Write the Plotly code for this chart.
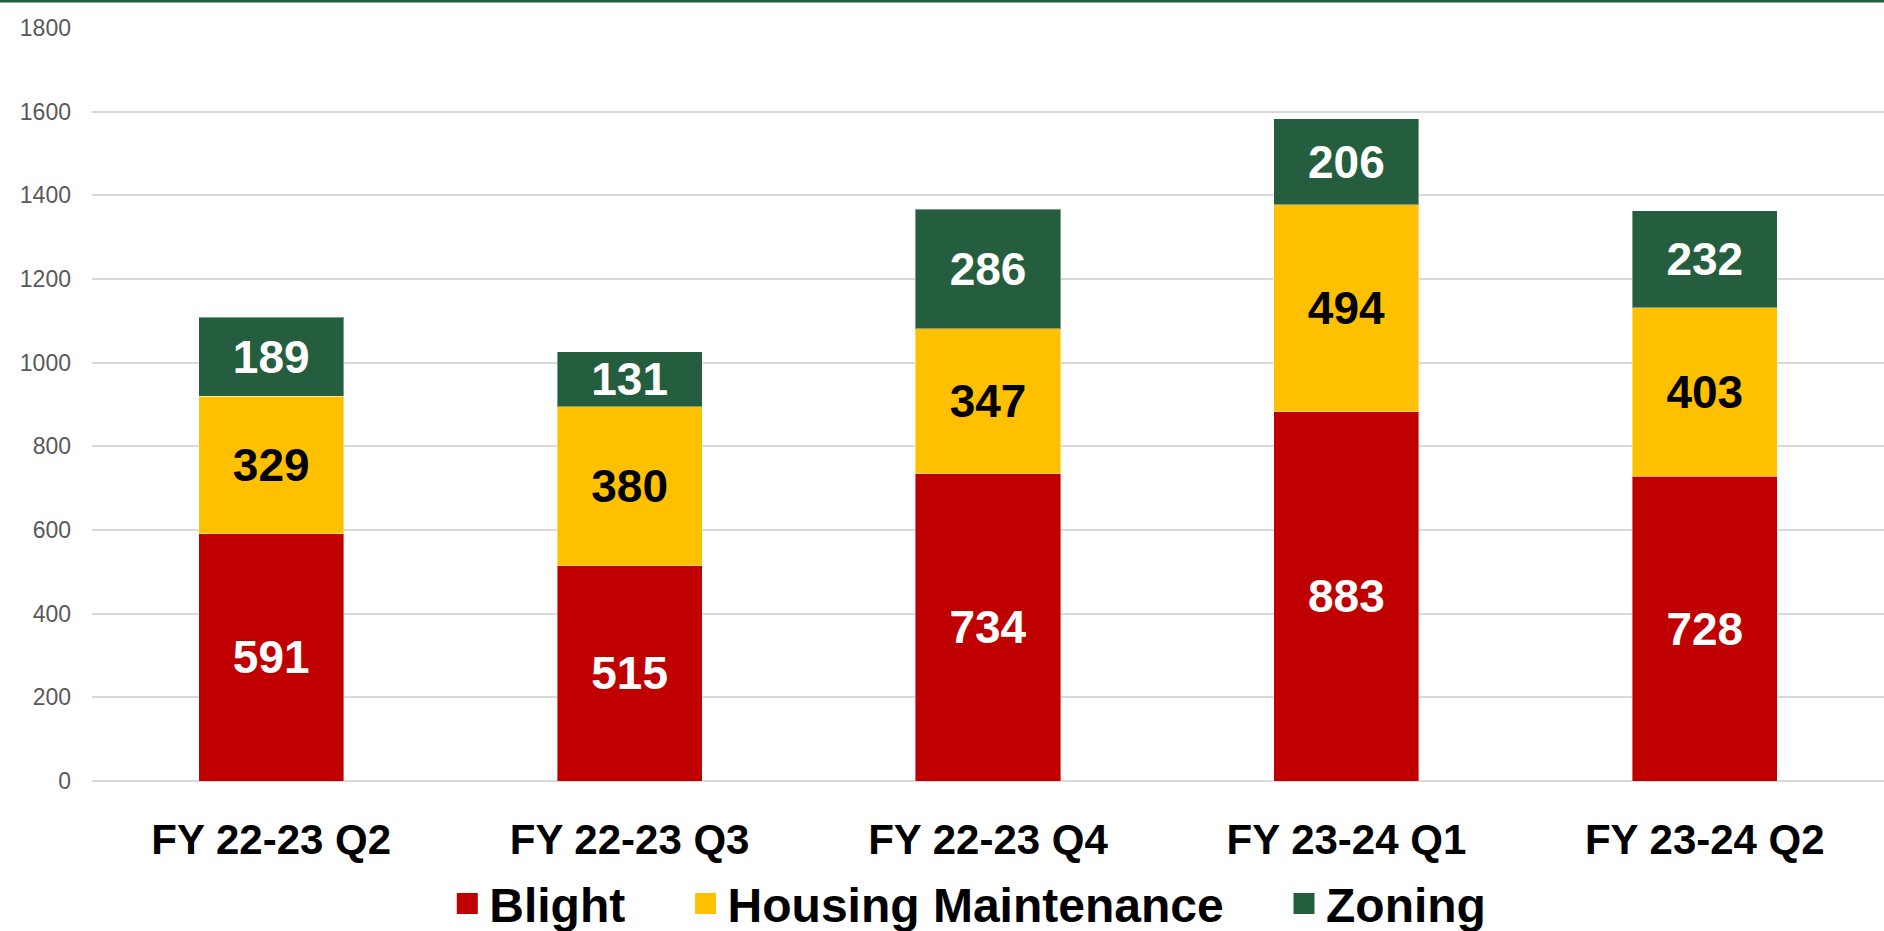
import plotly.graph_objects as go

# quarterly counts by case type
quarters = ["FY 22-23 Q2", "FY 22-23 Q3", "FY 22-23 Q4", "FY 23-24 Q1", "FY 23-24 Q2"]
blight = [591, 515, 734, 883, 728]
housing = [329, 380, 347, 494, 403]
zoning = [189, 131, 286, 206, 232]

series_names = ["Blight", "Housing Maintenance", "Zoning"]
series_colors = ["#C00000", "#FFC000", "#255E3F"]
label_colors = ["white", "black", "white"]

FONT = "Arial, Liberation Sans, sans-serif"
PAD = "\u00a0" * 4  # extra room between legend entries

fig = go.Figure()
for name, vals, color, lc in zip(series_names, [blight, housing, zoning], series_colors, label_colors):
    fig.add_bar(
        x=quarters, y=vals, name=name,
        marker=dict(color=color, line=dict(color="rgba(255,255,255,0.4)", width=1)),
        text=vals, textposition="inside", insidetextanchor="middle",
        constraintext="none",
        textfont=dict(family=FONT, size=46, color=lc, weight="bold"),
        showlegend=False, legendgroup=name,
    )
    # legend-only marker so the legend square can be bigger than the bar icon
    fig.add_scatter(
        x=[None], y=[None], mode="markers", name=name + (PAD if name != "Zoning" else ""),
        legendgroup=name,
        marker=dict(symbol="square", size=16, color=color, line=dict(color=color, width=5)),
    )

fig.update_layout(
    barmode="stack",
    bargap=0.595,
    width=1884, height=931,
    margin=dict(l=92, r=0, t=28, b=150, autoexpand=False),
    plot_bgcolor="white", paper_bgcolor="white",
    font=dict(family=FONT, color="black"),
    legend=dict(
        orientation="h", x=0.489, xanchor="center", y=-0.163, yanchor="middle",
        font=dict(family=FONT, size=48, color="black", weight="bold"),
        itemwidth=34, tracegroupgap=0,
    ),
    xaxis=dict(
        showgrid=False, showline=False, ticks="", automargin=False,
        tickfont=dict(family=FONT, size=42, color="black", weight="bold"),
        ticklabelstandoff=30,
    ),
    yaxis=dict(
        range=[0, 1800], dtick=200, showgrid=True, gridcolor="#D9D9D9", gridwidth=2,
        zeroline=True, zerolinecolor="#D9D9D9", zerolinewidth=2,
        showline=False, ticks="", automargin=False,
        tickfont=dict(family=FONT, size=23, color="#595959"),
        ticklabelstandoff=20,
    ),
    shapes=[dict(
        type="rect", xref="paper", yref="paper",
        x0=-92 / 1792, x1=1, y0=1 + 25.5 / 753, y1=1 + 28 / 753,
        fillcolor="#255E3F", line=dict(width=0),
    )],
)

# drop the browser's default body margin so the figure sits flush in the window
fig.write_html("out.html", config={"displayModeBar": False},
               post_script="document.body.style.margin='0';")
